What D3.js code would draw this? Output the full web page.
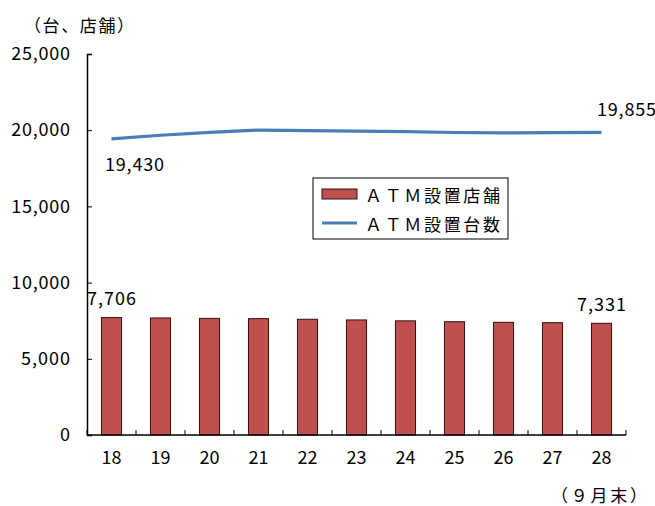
<!DOCTYPE html>
<html>
<head>
<meta charset="utf-8">
<script src="https://cdn.jsdelivr.net/npm/d3@7"></script>
<style>
    body { margin: 0; background: #fff; }
    svg text { font-family: "Noto Sans CJK JP", "DejaVu Sans", sans-serif; fill: #000; }
</style>
</head>
<body>
<div id="chart"></div>
<script>
'use strict';

// Data.
var years = ['18', '19', '20', '21', '22', '23', '24', '25', '26', '27', '28'];
var shops = [7706, 7680, 7655, 7635, 7595, 7550, 7490, 7434, 7393, 7370, 7331];
var machines = [19430, 19670, 19860, 20010, 19970, 19940, 19900, 19850, 19820, 19840, 19855];
var yTicks = [0, 5000, 10000, 15000, 20000, 25000];

var width = 655,
    height = 506,
    margin = {top: 54, right: 29, bottom: 71, left: 87},
    innerW = width - margin.left - margin.right,
    innerH = height - margin.top - margin.bottom;

var svg = d3.select('#chart').append('svg')
    .attr('width', width)
    .attr('height', height);

var vis = svg.append('g')
    .attr('transform', 'translate(' + margin.left + ',' + margin.top + ')');

var x = d3.scaleBand()
    .domain(years)
    .range([0, innerW]);

var y = d3.scaleLinear()
    .domain([0, 25000])
    .range([innerH, 0]);

var fmt = d3.format(',');
var barW = x.bandwidth() * 0.41;

// Numbers in the original are set in a narrow gothic with a wide comma,
// so stretch the spacing a bit to get the same widths.
function numWidth(s) {
    return s.length * 9.8;
}

// Bars.
vis.selectAll('.bar')
    .data(shops)
    .enter().append('rect')
    .attr('class', 'bar')
    .attr('x', function (d, i) { return x(years[i]) + (x.bandwidth() - barW) / 2; })
    .attr('y', function (d) { return y(d); })
    .attr('width', barW)
    .attr('height', function (d) { return innerH - y(d); })
    .attr('fill', '#c0504d')
    .attr('stroke', '#2b1212')
    .attr('stroke-width', 1);

// Line.
var line = d3.line()
    .x(function (d, i) { return x(years[i]) + x.bandwidth() / 2; })
    .y(function (d) { return y(d); });

vis.append('path')
    .datum(machines)
    .attr('d', line)
    .attr('fill', 'none')
    .attr('stroke', '#4a7ebb')
    .attr('stroke-width', 3.2)
    .attr('stroke-linejoin', 'round');

// Y axis (ticks point inward).
var yAxis = vis.append('g')
    .call(d3.axisLeft(y).tickValues(yTicks).tickSize(-5).tickPadding(17).tickFormat(fmt));
yAxis.selectAll('text')
    .style('font-size', '18px')
    .attr('fill', '#000')
    .attr('lengthAdjust', 'spacing')
    .attr('textLength', function (d) { return d === 0 ? null : numWidth(fmt(d)); });
yAxis.select('.domain').attr('stroke-width', 1.5);

// X axis: ticks on band edges, pointing up.
var xEdges = d3.range(years.length + 1).map(function (i) { return i * x.step(); });
var xAxis = vis.append('g')
    .attr('transform', 'translate(0,' + innerH + ')');
xAxis.append('line')
    .attr('x1', 0).attr('x2', innerW)
    .attr('stroke', '#000').attr('stroke-width', 1.5);
xAxis.selectAll('.xtick')
    .data(xEdges)
    .enter().append('line')
    .attr('x1', function (d) { return d; })
    .attr('x2', function (d) { return d; })
    .attr('y1', 0).attr('y2', -5)
    .attr('stroke', '#000');
xAxis.selectAll('.xlabel')
    .data(years)
    .enter().append('text')
    .attr('x', function (d) { return x(d) + x.bandwidth() / 2; })
    .attr('y', 29)
    .attr('text-anchor', 'middle')
    .style('font-size', '18px')
    .text(function (d) { return d; });

vis.selectAll('.tick line').attr('stroke', '#000');

// Data labels on first and last point.
var last = years.length - 1;
function addLabel(txt, px, py) {
    vis.append('text')
        .attr('x', px).attr('y', py)
        .attr('text-anchor', 'middle')
        .attr('dominant-baseline', 'central')
        .attr('lengthAdjust', 'spacing')
        .attr('textLength', numWidth(txt))
        .style('font-size', '18px')
        .text(txt);
}
var cx0 = x(years[0]) + x.bandwidth() / 2,
    cxN = x(years[last]) + x.bandwidth() / 2;
addLabel(fmt(machines[0]), cx0 + 23, y(machines[0]) + 24);
addLabel(fmt(machines[last]), cxN + 25, y(machines[last]) - 24);
addLabel(fmt(shops[0]), cx0, y(shops[0]) - 21);
addLabel(fmt(shops[last]), cxN, y(shops[last]) - 20);

// Legend.
var legend = svg.append('g').attr('transform', 'translate(313,178)');
legend.append('rect')
    .attr('width', 195).attr('height', 61)
    .attr('fill', '#fff').attr('stroke', '#000');
legend.append('rect')
    .attr('x', 9).attr('y', 11).attr('width', 35).attr('height', 10)
    .attr('fill', '#c0504d').attr('stroke', '#2b1212');
legend.append('line')
    .attr('x1', 9).attr('x2', 44).attr('y1', 45).attr('y2', 45)
    .attr('stroke', '#4a7ebb').attr('stroke-width', 3.2);
legend.append('text')
    .attr('x', 52).attr('y', 16).attr('dominant-baseline', 'central')
    .attr('textLength', 135)
    .style('font-size', '17px')
    .text('ＡＴＭ設置店舗');
legend.append('text')
    .attr('x', 52).attr('y', 45).attr('dominant-baseline', 'central')
    .attr('textLength', 135)
    .style('font-size', '17px')
    .text('ＡＴＭ設置台数');

// Unit and note (full-width brackets carry blank space on their outer side).
svg.append('text')
    .attr('x', 24).attr('y', 24).attr('dominant-baseline', 'central')
    .attr('textLength', 110)
    .style('font-size', '17px')
    .text('（台、店舗）');
svg.append('text')
    .attr('x', 551).attr('y', 494).attr('dominant-baseline', 'central')
    .attr('textLength', 96)
    .style('font-size', '17px')
    .text('（９月末）');
</script>
</body>
</html>
